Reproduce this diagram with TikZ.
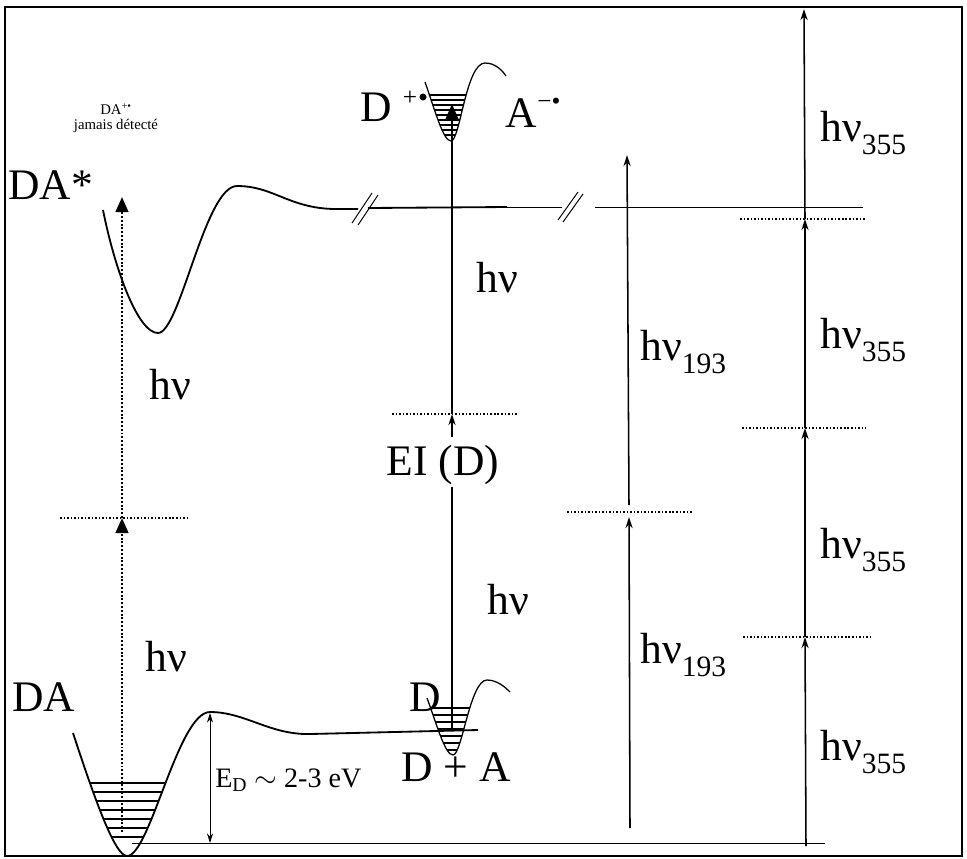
\documentclass[tikz,border=0pt]{standalone}
\usepackage{fontspec}
\setmainfont{Liberation Serif}
\usetikzlibrary{arrows.meta}
\newcommand{\lowidx}[1]{\raisebox{-0.3em}{\fontsize{21}{23}\selectfont #1}}
\tikzset{
  wellline/.style={line width=1.3pt},
  levelline/.style={line width=0.8pt},
  dotlevel/.style={line width=1.2pt, dash pattern=on 1.1pt off 1.4pt},
  dotarrow/.style={line width=1.7pt, dash pattern=on 1.4pt off 1.3pt, -{Triangle[length=3.8mm,width=3.2mm]}},
  thinarrow/.style={line width=1.1pt, -{Stealth[length=2.8mm,width=1.8mm]}},
  bigarrow/.style={line width=1.4pt, -{Triangle[length=3.8mm,width=3.2mm]}},
  biglbl/.style={font=\fontsize{31}{34}\selectfont, inner sep=0pt},
  midlbl/.style={font=\fontsize{18}{20}\selectfont, inner sep=0pt},
  smalllbl/.style={font=\fontsize{10.5}{12}\selectfont, inner sep=0pt},
}
\begin{document}
\begin{tikzpicture}[x=0.025cm, y=-0.025cm]
\useasboundingbox (0,0) rectangle (967,858);
% frame
\draw[line width=0.9pt] (5,7) rectangle (962,856);

% ground state well DA with its levels
\begin{scope}
\clip (73,733) .. controls (95,800) and (115,856) .. (127,856) .. controls (150,856) and (178,712) .. (210,712) -- cycle;
\foreach \y in {783,792,801,810,819,828,837}
  \draw[levelline] (60,\y) -- (220,\y);
\end{scope}
\draw[wellline] (73,733) .. controls (95,800) and (115,856) .. (127,856) .. controls (150,856) and (178,712) .. (210,712) .. controls (245,712) and (270,735) .. (310,734) -- (478,730);
\draw[line width=0.7pt] (132,843) -- (825,843);

% excited state DA*
\draw[wellline] (103,210) .. controls (115,270) and (138,333) .. (158,333) .. controls (180,333) and (205,186) .. (237,186) .. controls (275,186) and (290,210) .. (340,209) -- (358,209);
\draw[line width=0.7pt] (352,223) -- (372,193);
\draw[line width=0.7pt] (358,225) -- (378,195);
\draw[wellline] (368,208) -- (507,207);
\draw[line width=0.6pt] (507,207) -- (562,207);
\draw[line width=0.7pt] (558,220) -- (578,192);
\draw[line width=0.7pt] (563,222) -- (583,194);
\draw[line width=0.6pt] (595,207) -- (863,207);

% D+ well
\begin{scope}
\clip (425,82) .. controls (435,110) and (443,141) .. (451,141) .. controls (460,141) and (466,63) .. (485,63) -- cycle;
\foreach \y in {95,100,...,135}
  \draw[levelline] (415,\y) -- (480,\y);
\end{scope}
\draw[line width=0.9pt] (425,82) .. controls (435,110) and (443,141) .. (451,141) .. controls (460,141) and (466,63) .. (485,63) .. controls (495,63) and (502,70) .. (506,76);
\fill (423,97) circle (3.5);

% D well
\begin{scope}
\clip (427,698) .. controls (437,725) and (445,755) .. (453,755) .. controls (462,755) and (470,680) .. (487,680) -- cycle;
\foreach \y in {708,715,...,750}
  \draw[levelline] (415,\y) -- (495,\y);
\end{scope}
\draw[line width=0.9pt] (427,698) .. controls (437,725) and (445,755) .. (453,755) .. controls (462,755) and (470,680) .. (487,680) .. controls (497,680) and (505,687) .. (510,692);

% left column: two photons, dotted
\coordinate (l0) at (122,832);
\coordinate (l1) at (122,518);
\coordinate (l2) at (122,197);
\draw[dotlevel] (60,518) -- (187,518);
\draw[dotarrow] (l0) -- (l1);
\draw[dotarrow] (l1) -- (l2);

% dissociation energy
\coordinate (e0) at (210,843);
\coordinate (e1) at (210,713);
\draw[line width=0.7pt, {Stealth[length=2.4mm,width=1.5mm]}-{Stealth[length=2.4mm,width=1.5mm]}] (e0) -- (e1);

% middle column
\node[biglbl] (ei) at (443,465) {EI (D)};
\coordinate (m0) at (452,730);
\coordinate (m1) at (452,487);
\coordinate (m2) at (452,437);
\coordinate (m3) at (452,414);
\coordinate (m4) at (452,104);
\draw[dotlevel] (392,414) -- (517,414);
\draw[line width=1.1pt] (m0) -- (m1);
\draw[thinarrow] (m2) -- (m3);
\draw[bigarrow] (m3) -- (m4);

% 193 nm column
\coordinate (a0) at (630,828);
\coordinate (a1) at (629,517);
\coordinate (a2) at (629,505);
\coordinate (a3) at (627,155);
\draw[dotlevel] (567,512) -- (692,512);
\draw[thinarrow] (a0) -- (a1);
\draw[thinarrow] (a2) -- (a3);

% 355 nm column
\coordinate (b0) at (806,846);
\coordinate (b1) at (805,637);
\coordinate (b2) at (805,428);
\coordinate (b3) at (805,219);
\coordinate (b4) at (804,9);
\draw[dotlevel] (743,637) -- (870,637);
\draw[dotlevel] (742,428) -- (866,428);
\draw[dotlevel] (740,219) -- (865,219);
\draw[thinarrow] (b0) -- (b1);
\draw[thinarrow] (b1) -- (b2);
\draw[thinarrow] (b2) -- (b3);
\draw[thinarrow] (b3) -- (b4);

% labels
\node[smalllbl] (daplus) at (116,109) {DA\textsuperscript{+•}};
\node[smalllbl] (jamais) at (116,126) {jamais détecté};
\node[biglbl, anchor=west] (dastar) at (8,185) {DA*};
\node[biglbl, anchor=west] (da) at (12,697) {DA};
\node[biglbl] (hvA) at (170,385) {hν};
\node[biglbl] (hvB) at (166,657) {hν};
\node[midlbl, anchor=west, font=\fontsize{20}{22}\selectfont] (ed) at (215,780) {E\textsubscript{D} $\sim$ 2-3 eV};
\node[biglbl] (dplus) at (376,107) {D};
\node[midlbl] (dpluscharge) at (410,98) {+};
\node[biglbl] (aminus) at (521,113) {A};
\node[midlbl] (aminuscharge) at (549,104) {−•};
\node[biglbl] (hvC) at (497,278) {hν};
\node[biglbl] (hvD) at (508,600) {hν};
\node[biglbl] (dlbl) at (425,697) {D};
\node[biglbl] (dpa) at (456,767) {D + A};
\node[biglbl, anchor=west] (hvE) at (640,352) {hν\lowidx{193}};
\node[biglbl, anchor=west] (hvF) at (640,655) {hν\lowidx{193}};
\node[biglbl, anchor=west] (hvG) at (820,133) {hν\lowidx{355}};
\node[biglbl, anchor=west] (hvH) at (820,340) {hν\lowidx{355}};
\node[biglbl, anchor=west] (hvI) at (820,550) {hν\lowidx{355}};
\node[biglbl, anchor=west] (hvJ) at (820,752) {hν\lowidx{355}};
\end{tikzpicture}
\end{document}
